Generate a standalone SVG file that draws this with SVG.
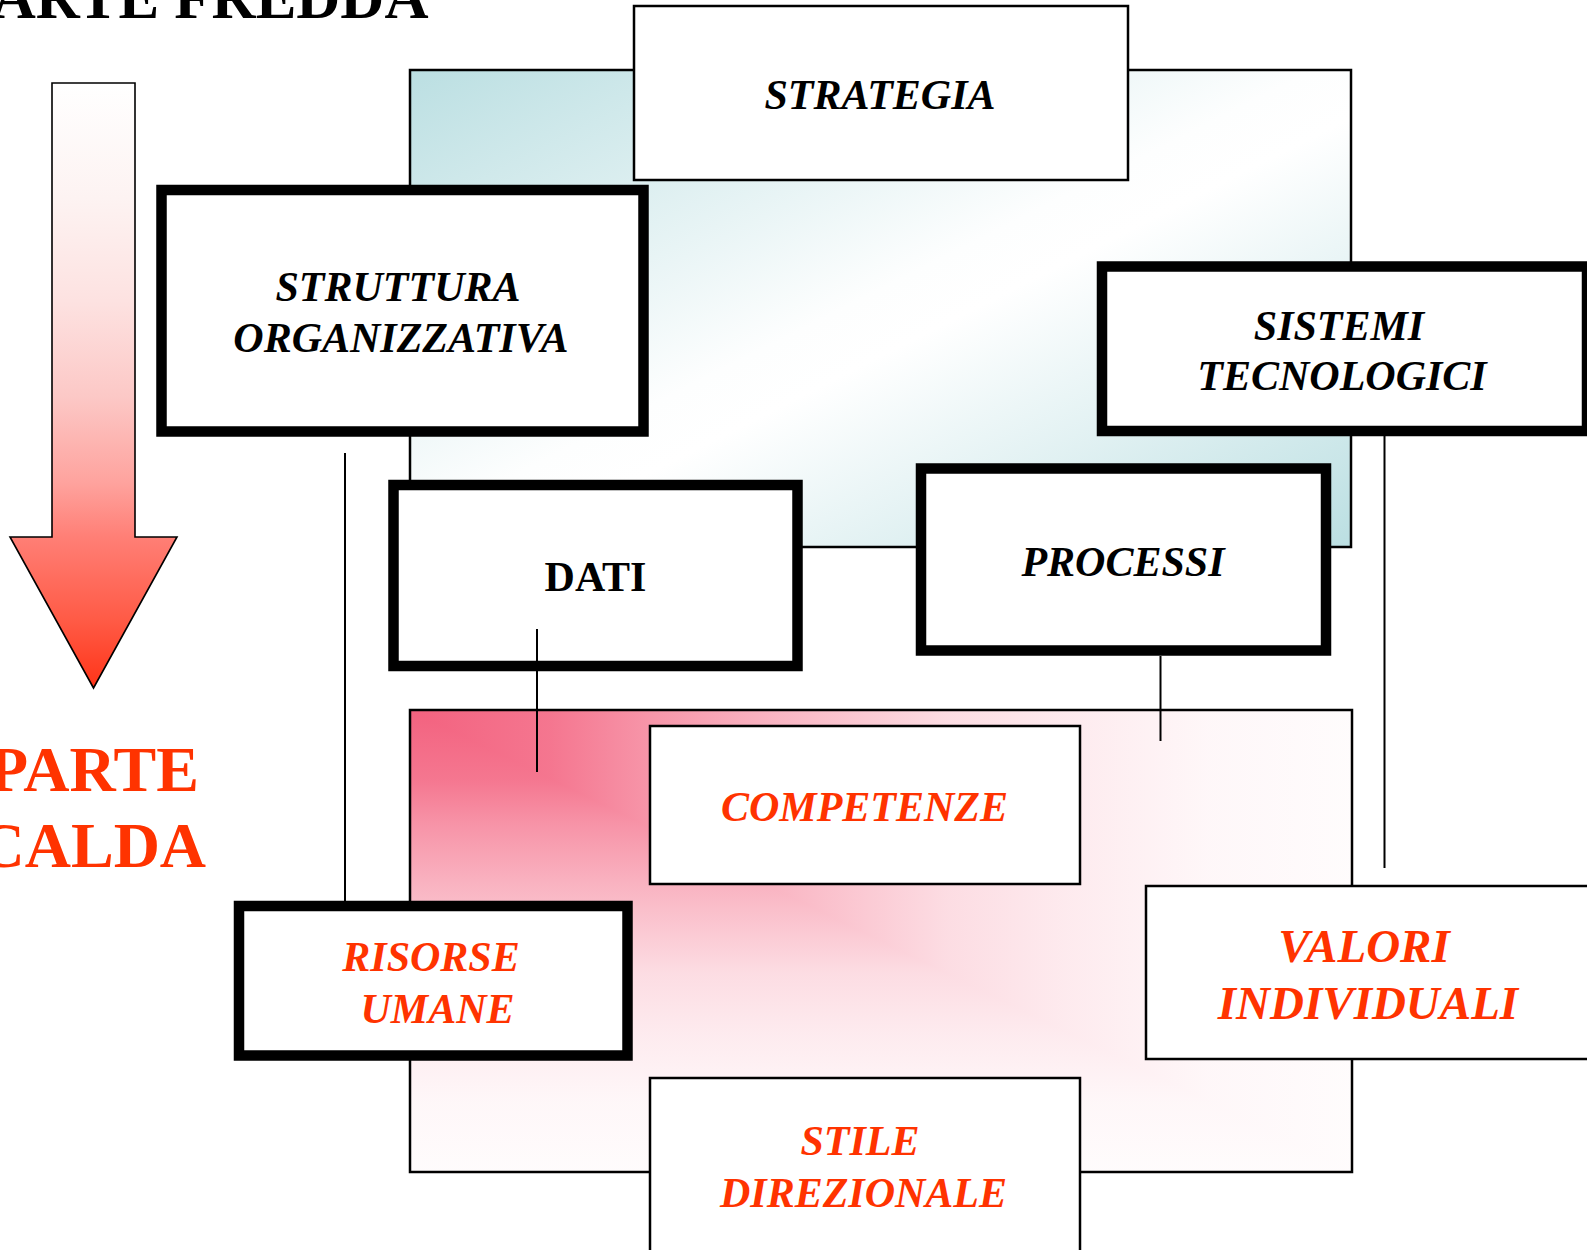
<svg xmlns="http://www.w3.org/2000/svg" width="1587" height="1250" viewBox="0 0 1587 1250">
<defs>
<linearGradient id="gBlue" x1="0" y1="0" x2="1" y2="1">
<stop offset="0" stop-color="#bbdfe2"/>
<stop offset="0.48" stop-color="#fdfefe"/>
<stop offset="0.55" stop-color="#ffffff"/>
<stop offset="1" stop-color="#bbdfe2"/>
</linearGradient>
<linearGradient id="gPinkV" gradientUnits="userSpaceOnUse" x1="0" y1="710" x2="0" y2="1172">
<stop offset="0" stop-color="#f3627f" stop-opacity="1"/>
<stop offset="0.15" stop-color="#f3627f" stop-opacity="0.87"/>
<stop offset="0.25" stop-color="#f3627f" stop-opacity="0.68"/>
<stop offset="0.38" stop-color="#f3627f" stop-opacity="0.48"/>
<stop offset="0.57" stop-color="#f3627f" stop-opacity="0.22"/>
<stop offset="0.7" stop-color="#f3627f" stop-opacity="0.13"/>
<stop offset="0.85" stop-color="#f3627f" stop-opacity="0.05"/>
<stop offset="1" stop-color="#f3627f" stop-opacity="0.02"/>
</linearGradient>
<linearGradient id="gPinkH" gradientUnits="userSpaceOnUse" x1="410" y1="0" x2="1352" y2="0">
<stop offset="0" stop-color="#f3627f" stop-opacity="1"/>
<stop offset="0.15" stop-color="#f3627f" stop-opacity="0.87"/>
<stop offset="0.25" stop-color="#f3627f" stop-opacity="0.68"/>
<stop offset="0.38" stop-color="#f3627f" stop-opacity="0.48"/>
<stop offset="0.57" stop-color="#f3627f" stop-opacity="0.22"/>
<stop offset="0.7" stop-color="#f3627f" stop-opacity="0.13"/>
<stop offset="0.85" stop-color="#f3627f" stop-opacity="0.05"/>
<stop offset="1" stop-color="#f3627f" stop-opacity="0.02"/>
</linearGradient>
<linearGradient id="gArrow" gradientUnits="userSpaceOnUse" x1="0" y1="83" x2="0" y2="688">
<stop offset="0" stop-color="#ffffff"/>
<stop offset="0.19" stop-color="#fdf3f2"/>
<stop offset="0.36" stop-color="#fde2e1"/>
<stop offset="0.52" stop-color="#fcc8c6"/>
<stop offset="0.66" stop-color="#fea39e"/>
<stop offset="0.75" stop-color="#ff7f76"/>
<stop offset="0.89" stop-color="#ff5a45"/>
<stop offset="1" stop-color="#ff3418"/>
</linearGradient>
</defs>
<style>
.thin{fill:#ffffff;stroke:#000000;stroke-width:2.5}
.thick{fill:#ffffff;stroke:#000000;stroke-width:10.5}
.lbl{font-family:"Liberation Serif","Times New Roman",serif;font-weight:bold;font-style:italic;font-size:42px;text-anchor:middle}
.up{font-style:normal}
.lg{font-size:47px}
.blk{fill:#000000}
.red{fill:#ff3300}
.conn{stroke:#000000;stroke-width:2;fill:none}
.big{font-family:"Liberation Serif","Times New Roman",serif;font-weight:bold;font-size:64px}
.top{font-size:61px}
</style>
<rect width="1587" height="1250" fill="#ffffff"/>

<g id="titles">
<text class="big top blk" x="-41" y="18">PARTE FREDDA</text>
<text class="big red" x="-11" y="791">PARTE</text>
<text class="big red" x="-21.5" y="867">CALDA</text>
</g>

<g id="arrow">
<polygon points="52,83 135,83 135,537 177,537 93.5,688 10,537 52,537" fill="url(#gArrow)" stroke="#000000" stroke-width="1.6"/>
</g>

<g id="area-fredda">
<rect x="410" y="70" width="941" height="477" fill="url(#gBlue)" stroke="#000000" stroke-width="2.5"/>
</g>

<g id="area-calda">
<rect x="410" y="710" width="942" height="462" fill="#ffffff"/>
<rect x="410" y="710" width="942" height="462" fill="url(#gPinkV)"/>
<polygon points="410,710 1352,710 1352,1172" fill="#ffffff" shape-rendering="crispEdges"/>
<polygon points="410,710 1352,710 1352,1172" fill="url(#gPinkH)" shape-rendering="crispEdges"/>
<rect x="410" y="710" width="942" height="462" fill="none" stroke="#000000" stroke-width="2.5"/>
</g>

<g id="strategia">
<rect class="thin" x="634" y="6" width="494" height="174"/>
<text class="lbl blk" x="880" y="109">STRATEGIA</text>
</g>

<g id="struttura">
<rect class="thick" x="161.5" y="190" width="482" height="241.5"/>
<text class="lbl blk" x="398" y="301">STRUTTURA</text>
<text class="lbl blk" x="401" y="351.5">ORGANIZZATIVA</text>
</g>

<g id="sistemi">
<rect class="thick" x="1102" y="266.5" width="485" height="164.5"/>
<text class="lbl blk" x="1339" y="340">SISTEMI</text>
<text class="lbl blk" x="1342" y="390">TECNOLOGICI</text>
</g>

<g id="dati">
<rect class="thick" x="393.5" y="485" width="404" height="181"/>
<text class="lbl up blk" x="595.5" y="591">DATI</text>
</g>

<g id="processi">
<rect class="thick" x="921" y="468.5" width="405" height="182"/>
<text class="lbl blk" x="1123" y="576">PROCESSI</text>
</g>

<g id="competenze">
<rect class="thin" x="650" y="726" width="430" height="158"/>
<text class="lbl red" x="864.5" y="821">COMPETENZE</text>
</g>

<g id="risorse">
<rect class="thick" x="239" y="906" width="388.5" height="149.5"/>
<text class="lbl red" x="431" y="971">RISORSE</text>
<text class="lbl red" x="437.5" y="1023">UMANE</text>
</g>

<g id="valori">
<rect class="thin" x="1146" y="886" width="460" height="173"/>
<text class="lbl lg red" x="1364" y="961.5">VALORI</text>
<text class="lbl lg red" x="1368" y="1019">INDIVIDUALI</text>
</g>

<g id="stile">
<rect class="thin" x="650" y="1078" width="430" height="200"/>
<text class="lbl red" x="860" y="1155">STILE</text>
<text class="lbl red" x="863.5" y="1207">DIREZIONALE</text>
</g>

<g id="connectors">
<line class="conn" x1="345" y1="453" x2="345" y2="901"/>
<line class="conn" x1="537" y1="629" x2="537" y2="772"/>
<line class="conn" x1="1160.5" y1="656" x2="1160.5" y2="741"/>
<line class="conn" x1="1384.5" y1="436" x2="1384.5" y2="868"/>
</g>
</svg>
